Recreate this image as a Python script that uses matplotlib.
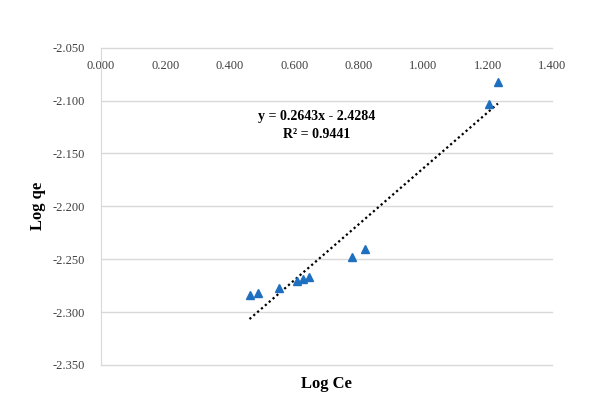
import numpy as np
import matplotlib
matplotlib.use("Agg")
import matplotlib.pyplot as plt

plt.rcParams['font.family'] = ['Liberation Serif', 'DejaVu Serif']

# data
log_ce = [0.461, 0.488, 0.554, 0.608, 0.628, 0.646, 0.780, 0.819, 1.204, 1.232]
log_qe = [-2.2837, -2.2820, -2.2768, -2.2708, -2.2689, -2.2670, -2.2475, -2.2403, -2.1034, -2.0828]

slope = 0.2643
intercept = -2.4284
r2 = 0.9441

x_ticks = [0.0, 0.2, 0.4, 0.6, 0.8, 1.0, 1.2, 1.4]
y_ticks = [-2.35, -2.30, -2.25, -2.20, -2.15, -2.10, -2.05]

fig = plt.figure(figsize=(5.98, 4.15), dpi=100)
ax = fig.add_axes([0.1689, 0.1205, 0.7542, 0.7645])

ax.plot(log_ce, log_qe, linestyle='none', marker='^', markersize=6,
        color='#1f6fc0', zorder=3)

# linear trendline over data range
tx = np.array([min(log_ce), max(log_ce)])
ax.plot(tx, slope * tx + intercept, color='black', linestyle=(0, (1, 1.3)),
        linewidth=1.6, zorder=2)

ax.text(0.670, -2.1152, f"y = {slope}x - {abs(intercept)}", ha='center', va='center',
        fontsize=10, fontweight='bold')
ax.text(0.670, -2.1325, f"R² = {r2}", ha='center', va='center',
        fontsize=10, fontweight='bold')

ax.set_xlim(0, 1.4)
ax.set_ylim(-2.35, -2.05)
ax.set_xticks(x_ticks)
ax.set_xticklabels([f"{v:.3f}" for v in x_ticks])
ax.set_yticks(y_ticks)
ax.set_yticklabels([f"{v:.3f}" for v in y_ticks])
ax.tick_params(axis='x', top=False, bottom=False, labelbottom=False, labeltop=True,
               pad=-21, labelsize=9, labelcolor='#404040')
ax.tick_params(axis='y', left=False, pad=8, labelsize=9, labelcolor='#404040')

ax.grid(axis='y', color='#d9d9d9', linewidth=1)
for gl in ax.get_ygridlines():
    gl.set_clip_on(False)
ax.set_axisbelow(True)
for s in ['top', 'right', 'bottom']:
    ax.spines[s].set_visible(False)
ax.spines['left'].set_color('#d9d9d9')

ax.set_xlabel("Log Ce", fontsize=12, fontweight='bold', labelpad=8)
ax.set_ylabel("Log qe", fontsize=12, fontweight='bold', labelpad=5)

fig.savefig("out.png", dpi=100)
